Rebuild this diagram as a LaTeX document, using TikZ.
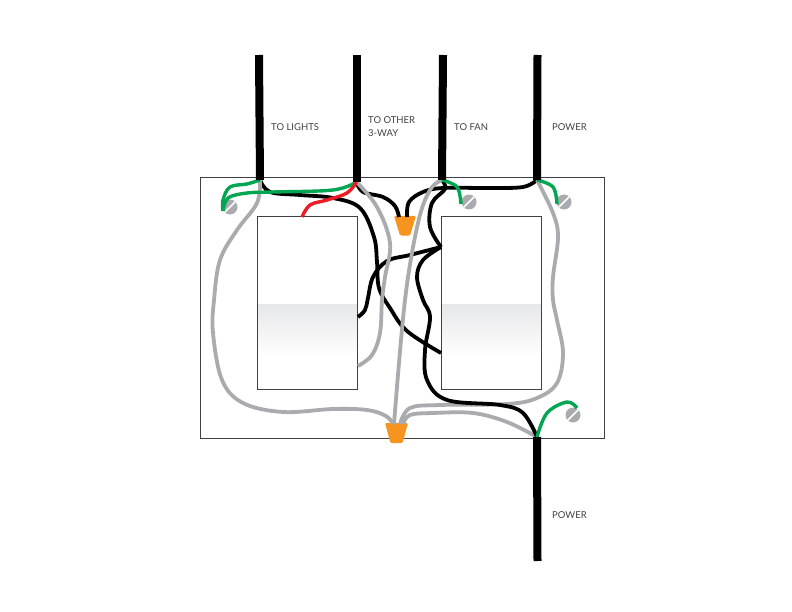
\documentclass[tikz,border=0pt]{standalone}
\usepackage{fontspec}
\setmainfont{Lato}
\usetikzlibrary{positioning, calc}
\definecolor{wiregrey}{HTML}{A9ABAE}
\definecolor{wiregreen}{HTML}{00A651}
\definecolor{wirered}{HTML}{ED1C24}
\definecolor{nutorange}{HTML}{F7941D}
\definecolor{edgegrey}{HTML}{414042}
\definecolor{plategrey}{HTML}{E6E7E8}
\tikzstyle{cable} = [line width=8bp, black]
\tikzstyle{blackwire} = [line width=3.8bp, black, line join=round]
\tikzstyle{greywire} = [line width=3.8bp, wiregrey, line join=round]
\tikzstyle{greenwire} = [line width=3.4bp, wiregreen, line join=round]
\tikzstyle{redwire} = [line width=3.4bp, wirered, line join=round]
\tikzstyle{backbox} = [rectangle, draw=edgegrey, line width=1bp, fill=white, minimum width=404bp, minimum height=260bp, inner sep=0pt]
\tikzstyle{switchbox} = [rectangle, draw=edgegrey, line width=1bp, fill=white, minimum width=100bp, minimum height=172bp, inner sep=0pt, path picture={\foreach \i in {0,...,52} {\pgfmathsetmacro\fade{100-100*\i/53} \fill[plategrey!\fade!white] ($(path picture bounding box.west)+(0,1+\i)$) rectangle ($(path picture bounding box.east)+(0,2.5+\i)$);}}]
\tikzstyle{screw} = [circle, fill=wiregrey, minimum size=15bp, inner sep=0pt, path picture={\draw[white, line width=1.6bp] (path picture bounding box.south west) -- (path picture bounding box.north east);}]
\tikzstyle{wirenut} = [fill=nutorange, rounded corners=1.2bp]
\tikzstyle{tag} = [font=\fontsize{9.5bp}{13bp}\selectfont, text=black!75, align=left, anchor=west, inner sep=0pt]
\begin{document}
\begin{tikzpicture}[x=1bp, y=-1bp]
			\useasboundingbox (0,0) rectangle (792,612);
			
			\node (box) [backbox] at (402,308) {};
			\node (switchL) [switchbox] at (307.5,303) {};
			\node (switchR) [switchbox] at (491,303) {};
			
			\node (screwA) [screw] at (230,207) {};
			\node (screwB) [screw] at (469,202) {};
			\node (screwC) [screw] at (564,202) {};
			\node (screwD) [screw] at (573,415) {};
			
			\coordinate (lightsEnd) at (259,55);
			\coordinate (otherEnd) at (356.5,55);
			\coordinate (fanEnd) at (443,55);
			\coordinate (powerEnd) at (537.5,55);
			\coordinate (feedEnd) at (537.5,561);
			\coordinate (lights) at (260,180);
			\coordinate (other) at (356.5,182);
			\coordinate (fan) at (442,180);
			\coordinate (power) at (537,180);
			\coordinate (feed) at (537,437);
			\coordinate (termL) at (358,317);
			\coordinate (termLow) at (358,366);
			\coordinate (termM) at (441,247);
			\coordinate (termD) at (441,353);
			\coordinate (termTop) at (302,217);
			\coordinate (nutTop) at (405,216);
			\coordinate (nutLow) at (396.5,423);
			
			\fill [wirenut] (nutTop) ++(-11,0) -- ++(22,0) -- ++(-6,19.5) -- ++(-10,0) -- cycle;
			\fill [wirenut] (nutLow) ++(-11.5,0) -- ++(23,0) -- ++(-5.5,20) -- ++(-12,0) -- cycle;
			
			\draw [blackwire] plot[smooth, tension=0.6] coordinates {(lights) (270,192) (300,195) (333,198) (360,208) (374,237) (377,262) (379,288) (390,308) (407,331) (termD)};
			\draw [blackwire] plot[smooth, tension=0.6] coordinates {(other) (363,192) (383,197) (395,206) (399,217)};
			\draw [blackwire] plot[smooth, tension=0.6] coordinates {(power) (523,187) (490,188) (443,188) (423,192) (409,202) (407,217)};
			\draw [blackwire] plot[smooth, tension=0.6] coordinates {(fan) (445,189) (432,203) (430,227) (termM)};
			\draw [blackwire] plot[smooth, tension=0.6] coordinates {(termL) (365,310) (368,298) (373,277) (387,261) (410,255) (termM)};
			
			\draw [greywire] plot[smooth, tension=0.6] coordinates {(lights) (257,203) (237,230) (220,260) (214,300) (213,333) (222,380) (243,403) (283,412) (333,409) (367,410) (386,416) (393,424)};
			\draw [greywire] plot[smooth, tension=0.6] coordinates {(other) (377,207) (390,243) (385,277) (382,300) (380,333) (372,355) (termLow)};
			\draw [greywire] plot[smooth, tension=0.6] coordinates {(fan) (430,190) (418,223) (405,300) (394,424)};
			\draw [greywire] plot[smooth, tension=0.6] coordinates {(power) (553,213) (558,237) (553,277) (553,300) (557,320) (563,353) (557,383) (537,398) (507,404) (440,405) (410,408) (400,424)};
			\draw [greywire] plot[smooth, tension=0.6] coordinates {(403,424) (410,415) (433,413) (473,413) (507,422) (feed)};
			
			\draw [blackwire] plot[smooth, tension=0.6] coordinates {(termM) (423,260) (417,277) (423,300) (430,317) (425,350) (427,380) (447,400) (500,405) (523,413) (feed)};
			
			\draw [greenwire] plot[smooth, tension=0.6] coordinates {(lights) (247,184) (230,187) (223,200) (223,211)};
			\draw [greenwire] plot[smooth, tension=0.6] coordinates {(other) (333,190) (273,192) (247,193) (228,198) (223,211)};
			\draw [greenwire] plot[smooth, tension=0.6] coordinates {(fan) (457,187) (461,204)};
			\draw [greenwire] plot[smooth, tension=0.6] coordinates {(power) (553,187) (557,204)};
			\draw [greenwire] plot[smooth, tension=0.6] coordinates {(feed) (547,413) (567,402) (577,408)};
			\draw [redwire] plot[smooth, tension=0.6] coordinates {(other) (347,193) (327,200) (310,205) (termTop)};
			
			\draw [cable] (lightsEnd) -- (lights);
			\draw [cable] (otherEnd) -- (other);
			\draw [cable] (fanEnd) -- (fan);
			\draw [cable] (powerEnd) -- (power);
			\draw [cable] (feed) -- (feedEnd);
			
			\node (tagLights) [tag] at (271,127) {TO LIGHTS};
			\node (tagOther) [tag] at (368,126.5) {TO OTHER\\3-WAY};
			\node (tagFan) [tag] at (454,127) {TO FAN};
			\node (tagPower) [tag] at (552,127) {POWER};
			\node (tagFeed) [tag] at (552,515) {POWER};
			\end{tikzpicture}
\end{document}
